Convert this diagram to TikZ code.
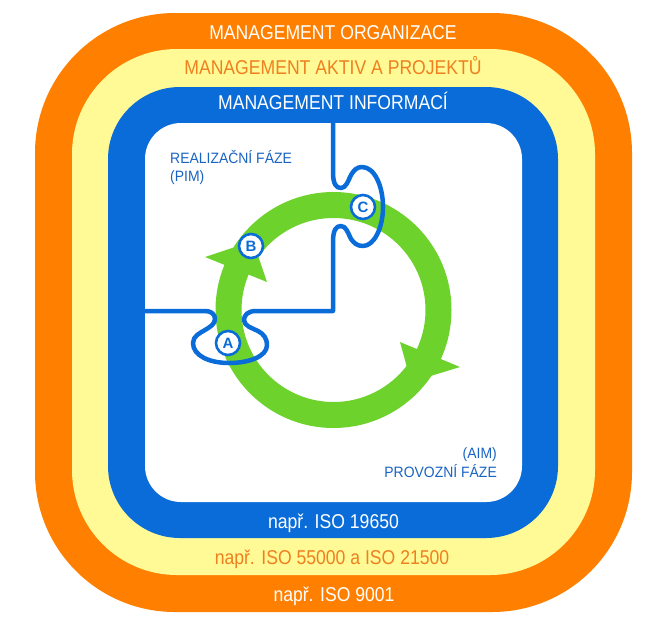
\documentclass[tikz,border=0pt]{standalone}
\usepackage{fontspec}
\setmainfont{Liberation Sans}
\definecolor{orgOrange}{RGB}{255,128,0}
\definecolor{orgYellow}{RGB}{255,250,150}
\definecolor{orgBlue}{RGB}{10,108,216}
\definecolor{orgGreen}{RGB}{110,210,45}
\definecolor{txtOrange}{RGB}{238,128,32}
\definecolor{txtBlue}{RGB}{25,100,195}
\newcommand{\bandtext}[1]{\scalebox{0.88}[1]{\fontsize{20}{24}\selectfont #1}}
\newcommand{\innertext}[1]{\scalebox{0.93}[1]{\fontsize{15}{18}\selectfont #1}}
\tikzset{
  bandlabel/.style={inner sep=0pt, anchor=base},
  phaselabel/.style={inner sep=0pt, text=txtBlue},
  puzzleline/.style={draw=orgBlue, line width=4.5pt, line join=round, line cap=round},
  letterdisc/.style={circle, draw=orgBlue, line width=2.6pt, fill=white, minimum size=24pt, inner sep=0pt, text=orgBlue, font=\fontsize{15}{15}\selectfont\bfseries},
  arrowbarb/.style={fill=orgGreen}
}
\begin{document}
\begin{tikzpicture}[x=1pt,y=-1pt]
\useasboundingbox (0,0) rectangle (660,625);
% nested rounded bands
\fill[orgOrange, rounded corners=140pt] (35,13) rectangle (632,612);
\fill[orgYellow, rounded corners=105pt] (72,49) rectangle (595,575);
\fill[orgBlue, rounded corners=72pt] (108,87) rectangle (558,538);
\fill[white, rounded corners=36pt] (145,123) rectangle (522,502);
% green cycle
\coordinate (ringc) at (333.5,310);
\draw[orgGreen, line width=26pt] (ringc) circle[radius=105pt];
\fill[arrowbarb] (205,257) -- (253,241) -- (267,282) -- cycle;
\fill[arrowbarb] (400,342) -- (411,382) -- (460,367) -- cycle;
% puzzle boundary
\draw[puzzleline] (333,121) -- (333,172)
  .. controls (333,184) and (336,188) .. (341,188)
  .. controls (346,188) and (348,181) .. (351,175)
  .. controls (354,170) and (357,167) .. (362,167)
  .. controls (375,167) and (383,187) .. (383,207)
  .. controls (383,228) and (374,246) .. (363,246)
  .. controls (357,246) and (354,243) .. (351,239)
  .. controls (348,233) and (346,226) .. (341,226)
  .. controls (336,226) and (333,230) .. (333,242)
  -- (333,311) -- (256,311)
  .. controls (248,311) and (244,315) .. (244,320)
  .. controls (244,326) and (252,328) .. (258,331)
  .. controls (264,334) and (267,339) .. (267,345)
  .. controls (267,357) and (248,363) .. (229,363)
  .. controls (210,363) and (193,356) .. (193,343)
  .. controls (193,336) and (200,333) .. (205,330)
  .. controls (210,327) and (215,324) .. (215,319)
  .. controls (215,314) and (211,311) .. (205,311)
  -- (143,311);
% letter discs
\node[letterdisc] (discA) at (228,343) {A};
\node[letterdisc] (discB) at (251,246) {B};
\node[letterdisc] (discC) at (363,207) {C};
% band labels
\node[bandlabel, text=white] (lorg) at (333,39.2) {\bandtext{MANAGEMENT ORGANIZACE}};
\node[bandlabel, text=txtOrange] (lakt) at (333,74.2) {\bandtext{MANAGEMENT AKTIV A PROJEKTŮ}};
\node[bandlabel, text=white] (linf) at (333,109.2) {\bandtext{MANAGEMENT INFORMACÍ}};
\node[bandlabel, text=white] (liso1) at (333.5,528.2) {\bandtext{např. ISO 19650}};
\node[bandlabel, text=txtOrange] (liso2) at (332,564.2) {\bandtext{např. ISO 55000 a ISO 21500}};
\node[bandlabel, text=white] (liso3) at (334,601.2) {\bandtext{např. ISO 9001}};
% phase labels
\node[phaselabel, anchor=base west] (lreal) at (170,163.4) {\innertext{REALIZAČNÍ FÁZE}};
\node[phaselabel, anchor=base west] (lpim) at (170,181.4) {\innertext{(PIM)}};
\node[phaselabel, anchor=base east] (laim) at (497,458.4) {\innertext{(AIM)}};
\node[phaselabel, anchor=base east] (lprov) at (497,477.4) {\innertext{PROVOZNÍ FÁZE}};
\end{tikzpicture}
\end{document}
